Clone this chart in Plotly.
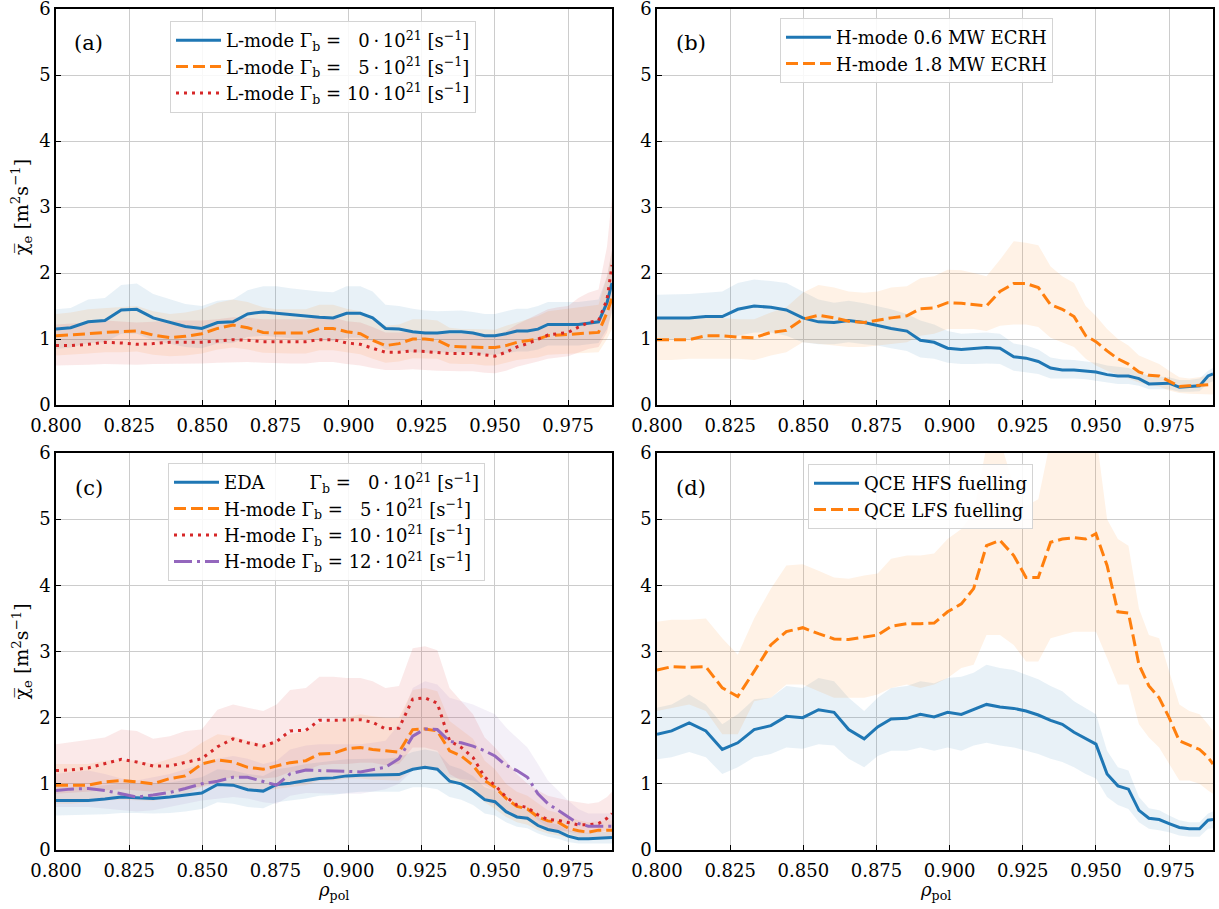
import plotly.graph_objects as go
from plotly.subplots import make_subplots

# radial grid (rho_pol) shared by all profiles
rho = [0.8000, 0.8050, 0.8110, 0.8167, 0.8223, 0.8276, 0.8332, 0.8389, 0.8442, 0.8498, 0.8552,
       0.8605, 0.8655, 0.8708, 0.8754, 0.8800, 0.8854, 0.8900, 0.8947, 0.8993, 0.9040, 0.9082,
       0.9126, 0.9172, 0.9219, 0.9261, 0.9303, 0.9345, 0.9385, 0.9425, 0.9465, 0.9500, 0.9538,
       0.9575, 0.9611, 0.9647, 0.9681, 0.9716, 0.9750, 0.9785, 0.9819, 0.9854, 0.9883, 0.9900]

# (a) L-mode, Gamma_b = 0, 5, 10 e21
a_l0 = [1.15, 1.17, 1.26, 1.28, 1.44, 1.45, 1.32, 1.25, 1.19, 1.16, 1.25,
        1.26, 1.38, 1.41, 1.39, 1.37, 1.35, 1.33, 1.32, 1.39, 1.39, 1.32,
        1.16, 1.15, 1.11, 1.09, 1.09, 1.11, 1.11, 1.09, 1.05, 1.05, 1.08,
        1.12, 1.12, 1.15, 1.22, 1.22, 1.22, 1.22, 1.24, 1.26, 1.55, 1.85]
a_l0_hi = [1.45, 1.47, 1.60, 1.62, 1.82, 1.84, 1.68, 1.60, 1.53, 1.50, 1.58,
           1.60, 1.74, 1.80, 1.80, 1.77, 1.74, 1.72, 1.71, 1.80, 1.80, 1.72,
           1.52, 1.50, 1.46, 1.43, 1.42, 1.43, 1.43, 1.41, 1.38, 1.38, 1.42,
           1.46, 1.46, 1.50, 1.56, 1.56, 1.56, 1.56, 1.58, 1.60, 1.95, 2.35]
a_l0_lo = [0.85, 0.87, 0.94, 0.95, 1.08, 1.08, 0.98, 0.93, 0.88, 0.86, 0.93,
           0.94, 1.03, 1.05, 1.03, 1.01, 1.00, 0.98, 0.97, 1.02, 1.02, 0.97,
           0.84, 0.83, 0.80, 0.79, 0.79, 0.80, 0.80, 0.78, 0.76, 0.76, 0.78,
           0.81, 0.81, 0.84, 0.90, 0.90, 0.90, 0.90, 0.92, 0.94, 1.15, 1.40]

a_l5 = [1.05, 1.06, 1.08, 1.10, 1.11, 1.12, 1.06, 1.02, 1.04, 1.08, 1.16,
        1.21, 1.17, 1.10, 1.09, 1.09, 1.09, 1.16, 1.16, 1.11, 1.08, 0.98,
        0.90, 0.93, 1.00, 1.00, 0.98, 0.89, 0.88, 0.88, 0.87, 0.87, 0.90,
        0.95, 0.97, 1.00, 1.05, 1.06, 1.07, 1.08, 1.09, 1.10, 1.40, 1.62]
a_l5_hi = [1.38, 1.40, 1.45, 1.47, 1.48, 1.50, 1.42, 1.38, 1.40, 1.45, 1.55,
           1.60, 1.56, 1.48, 1.45, 1.45, 1.45, 1.52, 1.52, 1.46, 1.42, 1.30,
           1.20, 1.22, 1.30, 1.30, 1.28, 1.17, 1.15, 1.15, 1.14, 1.14, 1.20,
           1.25, 1.30, 1.35, 1.42, 1.44, 1.46, 1.48, 1.50, 1.52, 1.95, 2.35]
a_l5_lo = [0.75, 0.76, 0.78, 0.80, 0.80, 0.81, 0.76, 0.74, 0.75, 0.78, 0.84,
           0.87, 0.84, 0.79, 0.78, 0.78, 0.78, 0.83, 0.83, 0.80, 0.77, 0.70,
           0.64, 0.66, 0.71, 0.71, 0.70, 0.63, 0.62, 0.62, 0.60, 0.60, 0.64,
           0.68, 0.70, 0.72, 0.76, 0.77, 0.78, 0.78, 0.79, 0.80, 1.00, 1.15]

a_l10 = [0.90, 0.90, 0.92, 0.95, 0.94, 0.92, 0.93, 0.95, 0.95, 0.95, 0.97,
         0.99, 0.98, 0.96, 0.96, 0.96, 0.96, 0.99, 0.99, 0.94, 0.92, 0.86,
         0.80, 0.80, 0.82, 0.81, 0.79, 0.78, 0.78, 0.78, 0.76, 0.74, 0.80,
         0.88, 0.93, 1.00, 1.06, 1.08, 1.10, 1.18, 1.25, 1.28, 1.60, 2.12]
a_l10_hi = [1.22, 1.23, 1.25, 1.28, 1.27, 1.25, 1.26, 1.28, 1.28, 1.28, 1.30,
            1.33, 1.32, 1.30, 1.30, 1.30, 1.30, 1.33, 1.33, 1.27, 1.25, 1.18,
            1.10, 1.10, 1.12, 1.12, 1.10, 1.08, 1.08, 1.08, 1.06, 1.04, 1.12,
            1.22, 1.30, 1.38, 1.45, 1.48, 1.50, 1.62, 1.70, 1.75, 2.40, 3.15]
a_l10_lo = [0.60, 0.60, 0.61, 0.62, 0.62, 0.61, 0.62, 0.63, 0.63, 0.63, 0.64,
            0.65, 0.65, 0.64, 0.63, 0.63, 0.63, 0.65, 0.65, 0.62, 0.60, 0.56,
            0.53, 0.53, 0.54, 0.53, 0.52, 0.51, 0.51, 0.51, 0.49, 0.48, 0.52,
            0.58, 0.62, 0.66, 0.70, 0.72, 0.74, 0.80, 0.85, 0.88, 1.10, 1.45]

# (b) H-mode, ECRH 0.6 / 1.8 MW
b_e06 = [1.32, 1.32, 1.32, 1.34, 1.34, 1.45, 1.50, 1.48, 1.44, 1.32, 1.26,
         1.25, 1.28, 1.25, 1.20, 1.16, 1.12, 0.98, 0.95, 0.86, 0.84, 0.85,
         0.87, 0.86, 0.73, 0.71, 0.66, 0.56, 0.53, 0.53, 0.52, 0.50, 0.46,
         0.44, 0.44, 0.40, 0.32, 0.33, 0.33, 0.27, 0.28, 0.29, 0.44, 0.47]
b_e06_hi = [1.67, 1.67, 1.68, 1.70, 1.72, 1.85, 1.90, 1.88, 1.85, 1.72, 1.60,
            1.55, 1.58, 1.54, 1.50, 1.45, 1.38, 1.28, 1.22, 1.12, 1.08, 1.09,
            1.10, 1.08, 0.93, 0.90, 0.84, 0.72, 0.69, 0.68, 0.66, 0.64, 0.60,
            0.58, 0.56, 0.50, 0.44, 0.43, 0.42, 0.38, 0.38, 0.40, 0.52, 0.56]
b_e06_lo = [1.00, 1.00, 1.00, 1.00, 1.00, 1.05, 1.10, 1.10, 1.05, 0.95, 0.92,
            0.92, 0.95, 0.92, 0.90, 0.86, 0.82, 0.72, 0.70, 0.64, 0.62, 0.62,
            0.63, 0.62, 0.52, 0.50, 0.47, 0.40, 0.40, 0.40, 0.39, 0.37, 0.34,
            0.32, 0.32, 0.29, 0.24, 0.24, 0.24, 0.20, 0.20, 0.21, 0.33, 0.36]

b_e18 = [0.99, 0.99, 0.99, 1.05, 1.05, 1.03, 1.02, 1.10, 1.13, 1.30, 1.36,
         1.32, 1.27, 1.25, 1.29, 1.32, 1.35, 1.46, 1.47, 1.55, 1.54, 1.52,
         1.50, 1.72, 1.84, 1.84, 1.78, 1.52, 1.45, 1.34, 1.05, 0.96, 0.82,
         0.70, 0.62, 0.50, 0.45, 0.44, 0.36, 0.28, 0.29, 0.30, 0.30, 0.31]
b_e18_hi = [1.30, 1.30, 1.30, 1.32, 1.32, 1.30, 1.30, 1.40, 1.48, 1.70, 1.82,
            1.78, 1.72, 1.70, 1.72, 1.78, 1.80, 1.92, 1.95, 2.05, 2.04, 2.00,
            1.95, 2.20, 2.48, 2.46, 2.42, 2.10, 1.95, 1.85, 1.50, 1.35, 1.15,
            1.00, 0.90, 0.75, 0.68, 0.62, 0.52, 0.42, 0.40, 0.42, 0.44, 0.45]
b_e18_lo = [0.68, 0.68, 0.70, 0.70, 0.70, 0.70, 0.68, 0.75, 0.80, 0.95, 0.93,
            0.90, 0.88, 0.88, 0.90, 0.92, 0.95, 1.05, 1.08, 1.15, 1.15, 1.15,
            1.12, 1.20, 1.22, 1.22, 1.18, 1.02, 0.95, 0.88, 0.70, 0.60, 0.52,
            0.45, 0.40, 0.34, 0.30, 0.28, 0.22, 0.18, 0.17, 0.17, 0.16, 0.16]

# (c) EDA / H-mode, Gamma_b = 0, 5, 10, 12 e21
c_eda = [0.75, 0.75, 0.75, 0.77, 0.80, 0.79, 0.78, 0.80, 0.83, 0.86, 0.99,
         0.98, 0.91, 0.89, 0.99, 1.01, 1.05, 1.08, 1.09, 1.12, 1.13, 1.13,
         1.13, 1.14, 1.22, 1.25, 1.22, 1.04, 1.00, 0.90, 0.76, 0.73, 0.58,
         0.50, 0.48, 0.37, 0.31, 0.28, 0.21, 0.17, 0.17, 0.18, 0.19, 0.19]
c_eda_hi = [0.95, 0.95, 0.96, 0.98, 1.00, 1.00, 1.00, 1.02, 1.06, 1.10, 1.22,
            1.20, 1.15, 1.12, 1.22, 1.25, 1.30, 1.33, 1.35, 1.37, 1.38, 1.38,
            1.38, 1.40, 1.48, 1.52, 1.48, 1.28, 1.22, 1.12, 0.95, 0.90, 0.75,
            0.65, 0.62, 0.50, 0.42, 0.38, 0.30, 0.26, 0.26, 0.27, 0.28, 0.28]
c_eda_lo = [0.52, 0.52, 0.53, 0.54, 0.56, 0.56, 0.55, 0.56, 0.58, 0.62, 0.72,
            0.70, 0.65, 0.63, 0.72, 0.75, 0.78, 0.82, 0.83, 0.86, 0.88, 0.88,
            0.88, 0.88, 0.95, 0.95, 0.92, 0.80, 0.76, 0.68, 0.55, 0.52, 0.42,
            0.35, 0.33, 0.25, 0.20, 0.17, 0.12, 0.10, 0.10, 0.10, 0.10, 0.10]

c_h5 = [0.98, 0.98, 0.98, 1.03, 1.05, 1.03, 1.00, 1.08, 1.12, 1.30, 1.36,
        1.33, 1.25, 1.22, 1.27, 1.32, 1.35, 1.45, 1.46, 1.53, 1.55, 1.52,
        1.50, 1.48, 1.82, 1.83, 1.80, 1.50, 1.42, 1.28, 1.05, 0.95, 0.78,
        0.66, 0.62, 0.50, 0.44, 0.42, 0.33, 0.29, 0.27, 0.30, 0.30, 0.30]
c_h5_hi = [1.30, 1.30, 1.30, 1.35, 1.36, 1.35, 1.30, 1.38, 1.45, 1.62, 1.75,
           1.72, 1.65, 1.60, 1.65, 1.75, 1.80, 1.92, 1.95, 2.00, 2.05, 2.02,
           2.00, 2.00, 2.42, 2.45, 2.40, 1.95, 1.82, 1.68, 1.35, 1.22, 1.00,
           0.88, 0.82, 0.70, 0.60, 0.56, 0.50, 0.45, 0.42, 0.44, 0.45, 0.45]
c_h5_lo = [0.70, 0.70, 0.72, 0.75, 0.76, 0.75, 0.74, 0.80, 0.84, 0.95, 1.00,
           0.98, 0.92, 0.90, 0.92, 0.95, 0.98, 1.05, 1.05, 1.08, 1.08, 1.06,
           1.05, 1.05, 1.25, 1.25, 1.22, 1.05, 0.98, 0.88, 0.72, 0.62, 0.50,
           0.42, 0.38, 0.30, 0.25, 0.22, 0.18, 0.16, 0.16, 0.17, 0.18, 0.18]

c_h10 = [1.20, 1.21, 1.24, 1.30, 1.37, 1.33, 1.27, 1.27, 1.32, 1.38, 1.56,
         1.68, 1.62, 1.57, 1.64, 1.80, 1.81, 1.96, 1.96, 1.97, 1.97, 1.93,
         1.83, 1.84, 2.28, 2.30, 2.22, 1.65, 1.55, 1.40, 1.10, 0.98, 0.80,
         0.68, 0.64, 0.53, 0.46, 0.45, 0.42, 0.38, 0.38, 0.40, 0.48, 0.55]
c_h10_hi = [1.60, 1.63, 1.66, 1.70, 1.82, 1.80, 1.68, 1.72, 1.80, 1.82, 2.12,
            2.20, 2.15, 2.10, 2.20, 2.42, 2.45, 2.62, 2.62, 2.60, 2.60, 2.55,
            2.45, 2.48, 3.05, 3.08, 3.02, 2.45, 2.25, 2.05, 1.70, 1.55, 1.35,
            1.15, 1.00, 0.90, 0.82, 0.78, 0.75, 0.72, 0.70, 0.72, 0.80, 0.88]
c_h10_lo = [0.85, 0.86, 0.88, 0.90, 0.92, 0.90, 0.88, 0.90, 0.93, 0.96, 1.05,
            1.10, 1.10, 1.08, 1.10, 1.18, 1.20, 1.28, 1.30, 1.30, 1.32, 1.32,
            1.28, 1.30, 1.55, 1.55, 1.50, 1.15, 1.05, 0.95, 0.75, 0.68, 0.58,
            0.50, 0.45, 0.38, 0.32, 0.30, 0.28, 0.25, 0.25, 0.26, 0.30, 0.32]

c_h12 = [0.90, 0.92, 0.93, 0.90, 0.85, 0.80, 0.83, 0.87, 0.93, 1.00, 1.04,
         1.10, 1.10, 1.03, 0.98, 1.15, 1.21, 1.20, 1.20, 1.19, 1.18, 1.21,
         1.25, 1.38, 1.72, 1.83, 1.82, 1.64, 1.62, 1.57, 1.50, 1.42, 1.28,
         1.20, 1.10, 0.85, 0.70, 0.60, 0.50, 0.40, 0.36, 0.36, 0.36, 0.36]
c_h12_hi = [1.15, 1.18, 1.20, 1.15, 1.08, 1.05, 1.10, 1.15, 1.22, 1.30, 1.38,
            1.42, 1.38, 1.30, 1.35, 1.52, 1.58, 1.60, 1.60, 1.60, 1.60, 1.62,
            1.65, 1.90, 2.45, 2.55, 2.50, 2.30, 2.25, 2.20, 2.12, 2.05, 1.85,
            1.70, 1.55, 1.30, 1.05, 0.90, 0.75, 0.62, 0.55, 0.55, 0.55, 0.55]
c_h12_lo = [0.65, 0.65, 0.65, 0.63, 0.60, 0.58, 0.60, 0.65, 0.70, 0.75, 0.78,
            0.80, 0.78, 0.72, 0.70, 0.82, 0.86, 0.85, 0.85, 0.85, 0.85, 0.88,
            0.92, 1.00, 1.20, 1.25, 1.20, 1.10, 1.08, 1.05, 0.98, 0.90, 0.78,
            0.70, 0.62, 0.45, 0.35, 0.30, 0.25, 0.20, 0.18, 0.18, 0.18, 0.18]

# (d) QCE, HFS / LFS fuelling
d_hfs = [1.75, 1.80, 1.92, 1.80, 1.52, 1.62, 1.82, 1.88, 2.02, 2.00, 2.12,
         2.08, 1.82, 1.68, 1.86, 1.98, 1.99, 2.05, 2.01, 2.08, 2.05, 2.12,
         2.20, 2.16, 2.14, 2.10, 2.04, 1.96, 1.90, 1.78, 1.68, 1.60, 1.15,
         0.97, 0.92, 0.60, 0.48, 0.46, 0.40, 0.34, 0.32, 0.32, 0.45, 0.46]
d_hfs_hi = [2.15, 2.20, 2.35, 2.20, 1.90, 2.05, 2.28, 2.30, 2.48, 2.45, 2.60,
            2.55, 2.30, 2.10, 2.30, 2.45, 2.48, 2.55, 2.52, 2.60, 2.62, 2.68,
            2.80, 2.75, 2.72, 2.65, 2.58, 2.48, 2.40, 2.25, 2.15, 2.05, 1.50,
            1.25, 1.20, 0.80, 0.63, 0.60, 0.52, 0.45, 0.42, 0.42, 0.55, 0.58]
d_hfs_lo = [1.37, 1.40, 1.48, 1.40, 1.15, 1.25, 1.40, 1.45, 1.55, 1.53, 1.60,
            1.58, 1.38, 1.25, 1.42, 1.50, 1.50, 1.55, 1.50, 1.55, 1.50, 1.58,
            1.62, 1.58, 1.55, 1.50, 1.45, 1.38, 1.33, 1.25, 1.15, 1.08, 0.80,
            0.68, 0.62, 0.42, 0.32, 0.30, 0.27, 0.22, 0.20, 0.20, 0.32, 0.33]

d_lfs = [2.72, 2.77, 2.76, 2.77, 2.45, 2.32, 2.70, 3.10, 3.30, 3.36, 3.27,
         3.19, 3.18, 3.22, 3.25, 3.38, 3.42, 3.42, 3.43, 3.60, 3.72, 3.95,
         4.60, 4.68, 4.45, 4.12, 4.12, 4.65, 4.70, 4.72, 4.70, 4.78, 4.30,
         3.60, 3.58, 2.80, 2.48, 2.30, 2.00, 1.65, 1.58, 1.52, 1.40, 1.30]
d_lfs_hi = [3.45, 3.48, 3.48, 3.50, 3.20, 2.95, 3.50, 3.95, 4.30, 4.32, 4.22,
            4.12, 4.10, 4.15, 4.18, 4.40, 4.45, 4.45, 4.48, 4.70, 4.85, 5.10,
            6.10, 6.20, 5.50, 5.20, 5.30, 6.20, 6.30, 6.30, 6.30, 6.30, 5.00,
            4.70, 4.60, 3.65, 3.25, 3.20, 2.70, 2.20, 2.10, 2.05, 1.90, 1.80]
d_lfs_lo = [2.10, 2.15, 2.20, 2.10, 1.75, 1.75, 2.25, 2.30, 2.50, 2.50, 2.40,
            2.30, 2.30, 2.30, 2.35, 2.45, 2.50, 2.45, 2.50, 2.60, 2.75, 2.80,
            3.25, 3.25, 3.10, 2.85, 2.85, 3.20, 3.25, 3.30, 3.30, 3.30, 2.90,
            2.50, 2.50, 1.90, 1.70, 1.55, 1.30, 1.05, 1.05, 1.00, 0.90, 0.85]

x_ticks = [0.800, 0.825, 0.850, 0.875, 0.900, 0.925, 0.950, 0.975]
y_ticks = [0, 1, 2, 3, 4, 5, 6]

FONT = 'DejaVu Serif'
COLORS = {'blue': '#1f77b4', 'orange': '#ff7f0e', 'red': '#d62728', 'purple': '#9467bd'}
FILLS = {'blue': 'rgba(31,119,180,0.10)', 'orange': 'rgba(255,127,14,0.10)',
         'red': 'rgba(214,39,40,0.10)', 'purple': 'rgba(148,103,189,0.10)'}
DASH = {'solid': 'solid', 'dash': '12px,5px', 'dot': '3px,5px', 'dashdot': '18px,5px,3px,5px'}

T = '\u2009'  # thin space, as in the math-mode legend labels
F = '\u2007'  # figure space, keeps the numbers aligned
G = 'Γ<sub>b</sub>'
S = f'{T}·{T}10<sup>21</sup> [s<sup>−1</sup>]'

panels = [
    (1, 1, 'legend', '(a)', [
        (f'L-mode {G} = {F}0{S}', a_l0, a_l0_lo, a_l0_hi, 'blue', 'solid'),
        (f'L-mode {G} = {F}5{S}', a_l5, a_l5_lo, a_l5_hi, 'orange', 'dash'),
        (f'L-mode {G} = 10{S}', a_l10, a_l10_lo, a_l10_hi, 'red', 'dot'),
    ]),
    (1, 2, 'legend2', '(b)', [
        ('H-mode 0.6 MW ECRH', b_e06, b_e06_lo, b_e06_hi, 'blue', 'solid'),
        ('H-mode 1.8 MW ECRH', b_e18, b_e18_lo, b_e18_hi, 'orange', 'dash'),
    ]),
    (2, 1, 'legend3', '(c)', [
        (f'EDA\u2003\u2003\u2002{G} = {F}0{S}', c_eda, c_eda_lo, c_eda_hi, 'blue', 'solid'),
        (f'H-mode {G} = {F}5{S}', c_h5, c_h5_lo, c_h5_hi, 'orange', 'dash'),
        (f'H-mode {G} = 10{S}', c_h10, c_h10_lo, c_h10_hi, 'red', 'dot'),
        (f'H-mode {G} = 12{S}', c_h12, c_h12_lo, c_h12_hi, 'purple', 'dashdot'),
    ]),
    (2, 2, 'legend4', '(d)', [
        ('QCE HFS fuelling', d_hfs, d_hfs_lo, d_hfs_hi, 'blue', 'solid'),
        ('QCE LFS fuelling', d_lfs, d_lfs_lo, d_lfs_hi, 'orange', 'dash'),
    ]),
]

W, H = 1219, 909
x_dom = {1: [56 / W, 612 / W], 2: [657 / W, 1213 / W]}
y_dom = {1: [1 - 405 / H, 1 - 9 / H], 2: [1 - 850 / H, 1 - 453 / H]}
legend_pos = {'legend': (170, 21), 'legend2': (780, 18), 'legend3': (168, 463), 'legend4': (808, 464)}
label_pos = {'(a)': (89, 43), '(b)': (691, 43), '(c)': (89, 488), '(d)': (691, 488)}

fig = make_subplots(rows=2, cols=2)

for row, col, leg, label, series in panels:
    # shaded uncertainty bands first
    for name, mean, lo, hi, c, d in series:
        fig.add_trace(go.Scatter(
            x=rho + rho[::-1], y=hi + lo[::-1], mode='lines', fill='toself',
            fillcolor=FILLS[c], line=dict(width=0), showlegend=False, hoverinfo='skip',
        ), row=row, col=col)
    for name, mean, lo, hi, c, d in series:
        fig.add_trace(go.Scatter(
            x=rho, y=mean, mode='lines', name=name, legend=leg,
            line=dict(color=COLORS[c], width=3, dash=DASH[d]),
        ), row=row, col=col)

    fig.update_xaxes(domain=x_dom[col], range=[0.8, 0.99], tickvals=x_ticks,
                     ticktext=[f'{v:.3f}' for v in x_ticks], ticklabelstandoff=4, row=row, col=col)
    fig.update_yaxes(domain=y_dom[row], range=[0, 6], tickvals=y_ticks, row=row, col=col)

    lx, ly = legend_pos[leg]
    fig.update_layout({leg: dict(
        x=lx / W, y=1 - ly / H, xanchor='left', yanchor='top',
        bgcolor='rgba(255,255,255,0.85)', bordercolor='#d4d4d4', borderwidth=1,
        font=dict(family=FONT, size=18, color='black'), tracegroupgap=0, itemwidth=45,
    )})

    px, py = label_pos[label]
    fig.add_annotation(text=label, x=px / W, y=1 - py / H, xref='paper', yref='paper',
                       xanchor='center', yanchor='middle',
                       showarrow=False, font=dict(family=FONT, size=21, color='black'))

common_axis = dict(
    showline=True, linecolor='black', linewidth=1.5, mirror=True, automargin=False,
    ticks='inside', ticklen=5, tickwidth=1, tickcolor='black', ticklabeloverflow='allow',
    showgrid=True, gridcolor='#cccccc', gridwidth=1, zeroline=False,
    tickfont=dict(family=FONT, size=18, color='black'),
)
fig.update_xaxes(**common_axis)
fig.update_yaxes(**common_axis)

# axis titles
ytitle = 'χ\u0305<sub>e</sub> [m<sup>2</sup>s<sup>−1</sup>]'
for r in (1, 2):
    yc = (y_dom[r][0] + y_dom[r][1]) / 2
    fig.add_annotation(text=ytitle, x=22 / W, y=yc, xref='paper', yref='paper', textangle=-90,
                       xanchor='center', yanchor='middle',
                       showarrow=False, font=dict(family=FONT, size=19, color='black'))
for c in (1, 2):
    xc = (x_dom[c][0] + x_dom[c][1]) / 2
    fig.add_annotation(text='<i>ρ</i><sub>pol</sub>', x=xc, y=1 - 891 / H, xref='paper', yref='paper',
                       xanchor='center', yanchor='middle',
                       showarrow=False, font=dict(family=FONT, size=18, color='black'))

fig.update_layout(
    width=W, height=H, margin=dict(l=0, r=0, t=0, b=0),
    plot_bgcolor='white', paper_bgcolor='white',
    font=dict(family=FONT, size=18, color='black'),
)

# the page's default body margin would shift the figure by 8 px
fig.write_html('out.html', config={'displayModeBar': False},
               post_script="document.body.style.margin='0';")
